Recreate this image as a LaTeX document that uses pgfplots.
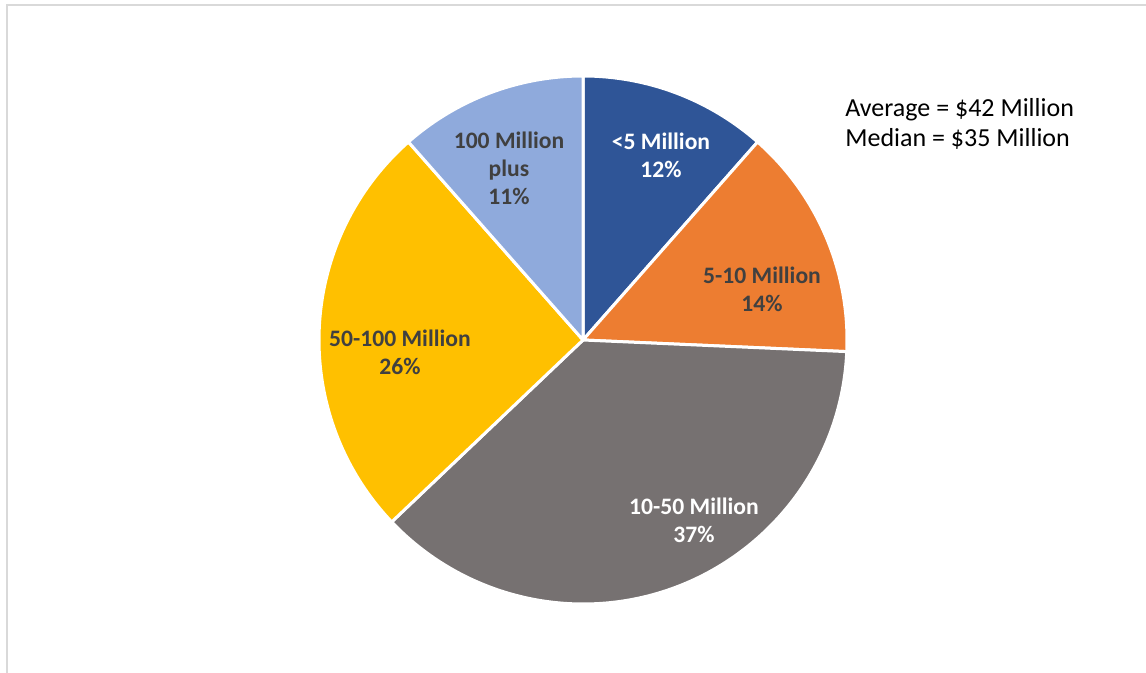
\documentclass[border=0pt]{standalone}
\usepackage{fontspec}
\setmainfont{Carlito}
\usepackage{pgfplots}
\pgfplotsset{compat=1.18}

\definecolor{c1}{HTML}{2F5597}
\definecolor{c2}{HTML}{ED7D31}
\definecolor{c3}{HTML}{767171}
\definecolor{c4}{HTML}{FFC000}
\definecolor{c5}{HTML}{8FAADC}
\definecolor{labgray}{HTML}{404040}
\definecolor{framegray}{HTML}{D9D9D9}

\newcommand\R{132pt}
% #1 = cumulative share before the slice, #2 = share, #3 = colour
\newcommand\slice[3]{%
  \fill[#3, draw=white, line width=1.5pt, line join=round]
    (axis cs:583,340) -- ++({90-3.6*(#1)}:\R)
    arc[start angle={90-3.6*(#1)}, delta angle={-3.6*(#2)}, radius=\R] -- cycle;}
\newcommand\labfont{\fontsize{11.8}{14}\selectfont\bfseries}

\begin{document}
\begin{tikzpicture}
\begin{axis}[
    name=ax,
    scale only axis,
    width=573pt, height=336.5pt,
    xmin=0, xmax=1146,
    ymin=0, ymax=673,
    y dir=reverse,
    hide axis,
    clip=true
]
\draw[framegray, line width=0.9pt] (axis cs:7,5) rectangle (axis cs:1200,720);

% shares (unrounded): 11.5, 14.2, 37.2, 25.6, 11.5
\slice{0}{11.5}{c1}
\slice{11.5}{14.2}{c2}
\slice{25.7}{37.2}{c3}
\slice{62.9}{25.6}{c4}
\slice{88.5}{11.5}{c5}

\node[font=\labfont, text=white, align=center] at (axis cs:661,155) {<5 Million\\12\%};
\node[font=\labfont, text=labgray, align=center] at (axis cs:762,289) {5-10 Million\\14\%};
\node[font=\labfont, text=white, align=center] at (axis cs:694,520) {10-50 Million\\37\%};
\node[font=\labfont, text=labgray, align=center] at (axis cs:400,352) {50-100 Million\\26\%};
\node[font=\labfont, text=labgray, align=center] at (axis cs:509,168) {100 Million\\plus\\11\%};

\node[font=\fontsize{13}{15}\selectfont, anchor=base west, inner sep=0pt] at (axis cs:845,117) {Average = \$42 Million};
\node[font=\fontsize{13}{15}\selectfont, anchor=base west, inner sep=0pt] at (axis cs:845,147) {Median = \$35 Million};
\end{axis}
\pgfresetboundingbox
\path[use as bounding box] (ax.south west) rectangle (ax.north east);
\end{tikzpicture}
\end{document}
